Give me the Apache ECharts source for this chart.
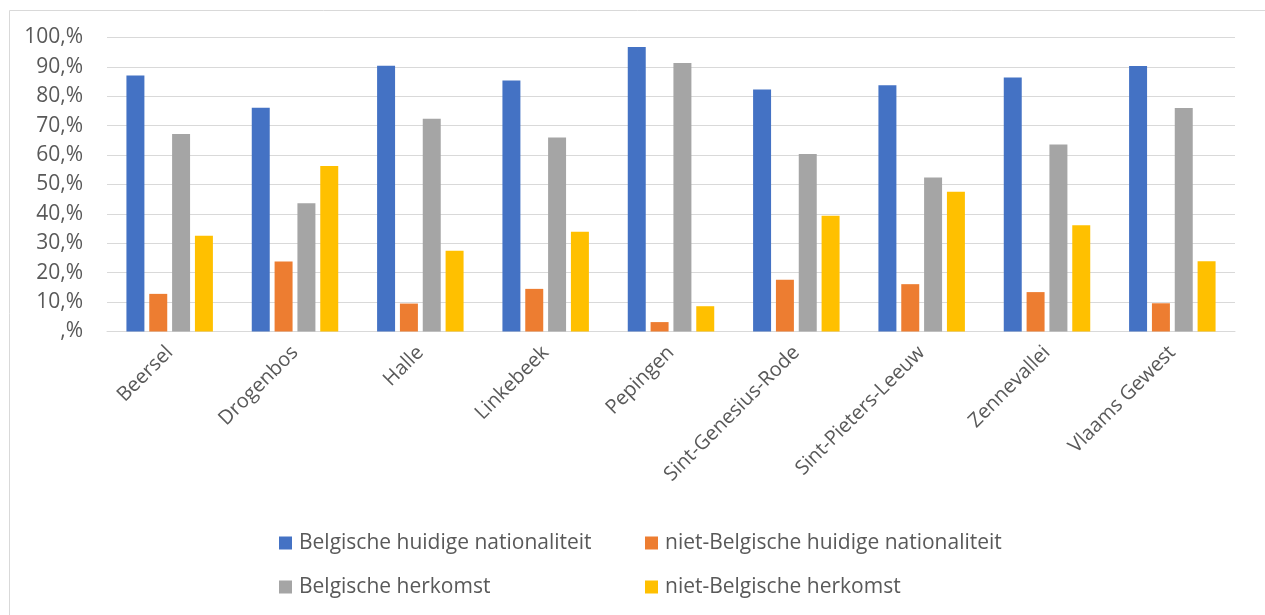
<!DOCTYPE html>
<html>
<head>
<meta charset="utf-8">
<script src="https://cdn.jsdelivr.net/npm/echarts@6/dist/echarts.min.js"></script>
<style>
html,body{margin:0;padding:0;background:#fff;}
#c{width:1265px;height:615px;}
</style>
</head>
<body>
<div id="c"></div>
<script>
const categories = ['Beersel','Drogenbos','Halle','Linkebeek','Pepingen','Sint-Genesius-Rode','Sint-Pieters-Leeuw','Zennevallei','Vlaams Gewest'];
const seriesNames = ['Belgische huidige nationaliteit','niet-Belgische huidige nationaliteit','Belgische herkomst','niet-Belgische herkomst'];
const belgNat = [87.1, 76.1, 90.4, 85.4, 96.8, 82.3, 83.8, 86.4, 90.3];
const nietBelgNat = [12.8, 23.8, 9.5, 14.5, 3.2, 17.6, 16.1, 13.4, 9.6];
const belgHerk = [67.2, 43.6, 72.4, 66.0, 91.3, 60.4, 52.4, 63.6, 76.0];
const nietBelgHerk = [32.6, 56.3, 27.5, 33.9, 8.6, 39.4, 47.5, 36.1, 23.9];
const yTicks = [0,10,20,30,40,50,60,70,80,90,100];
const colors = ['#4472c4','#ed7d31','#a5a5a5','#ffc000'];
const values = [belgNat, nietBelgNat, belgHerk, nietBelgHerk];

const font = "'Open Sans', 'Noto Sans', sans-serif";
const chart = echarts.init(document.getElementById('c'));
const legendText = {color:'#595959',fontSize:21,fontFamily:font,lineHeight:24,padding:[0,0,0,2]};
chart.setOption({
  animation:false,
  graphic:[{type:'rect',left:7,top:8,shape:{width:1257,height:620},style:{fill:'none',stroke:'#d9d9d9',lineWidth:1},silent:true}],
  grid:{left:107,right:30,top:37.5,bottom:283.5,containLabel:false},
  legend:[
    {orient:'vertical',left:279,top:531,padding:0,itemWidth:13,itemHeight:13,itemGap:20,icon:'rect',
     data:[seriesNames[0],seriesNames[2]],textStyle:legendText},
    {orient:'vertical',left:645,top:531,padding:0,itemWidth:13,itemHeight:13,itemGap:20,icon:'rect',
     data:[seriesNames[1],seriesNames[3]],textStyle:legendText}
  ],
  xAxis:{type:'category',data:categories,
    axisLine:{lineStyle:{color:'#d9d9d9',width:1}},axisTick:{show:false},
    axisLabel:{rotate:45,color:'#595959',fontSize:20,fontFamily:font,margin:18,interval:0}},
  yAxis:{type:'value',min:0,max:100,interval:10,
    axisLine:{show:false},axisTick:{show:false},
    splitLine:{lineStyle:{color:'#d9d9d9',width:1}},
    axisLabel:{color:'#595959',fontSize:21,fontFamily:font,margin:24,
      formatter:v=> (v===0? ',%' : v+',%')}},
  series: values.map((d,i)=>({
    name:seriesNames[i],type:'bar',data:d,
    itemStyle:{color:colors[i]},
    barGap:'27%',barCategoryGap:'31%'
  }))
});
</script>
</body>
</html>
